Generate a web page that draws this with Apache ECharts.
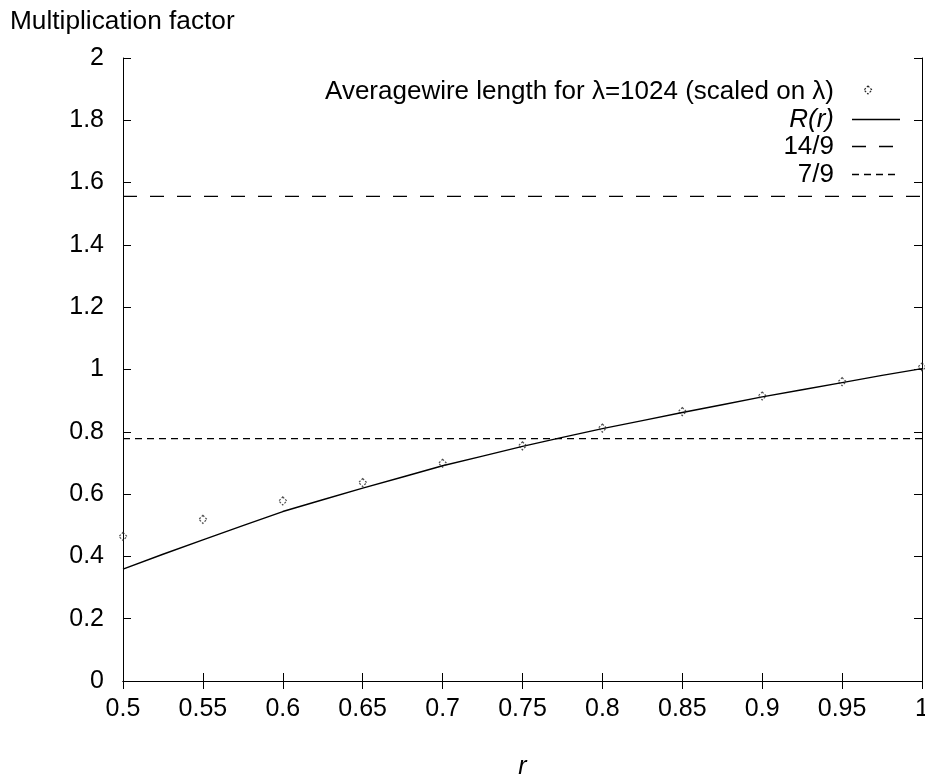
<!DOCTYPE html>
<html>
<head>
<meta charset="utf-8">
<script src="https://cdn.jsdelivr.net/npm/echarts@6/dist/echarts.min.js"></script>
<style>html,body{margin:0;padding:0;background:#fff}#c{width:925px;height:779px}</style>
</head>
<body>
<div id="c"></div>
<script>
// Data
var avgR = [0.5, 0.55, 0.6, 0.65, 0.7, 0.75, 0.8, 0.85, 0.9, 0.95, 1.0];
var avgVal = [0.464, 0.519, 0.578, 0.637, 0.699, 0.755, 0.812, 0.865, 0.915, 0.961, 1.008];
var curveR = [0.5, 0.525, 0.55, 0.575, 0.6, 0.625, 0.65, 0.675, 0.7, 0.725, 0.75, 0.775, 0.8, 0.825, 0.85, 0.875, 0.9, 0.925, 0.95, 0.975, 1.0];
var curveVal = [0.359, 0.407, 0.453, 0.499, 0.544, 0.582, 0.619, 0.655, 0.691, 0.722, 0.753, 0.782, 0.810, 0.836, 0.862, 0.887, 0.912, 0.935, 0.958, 0.981, 1.003];
var const14_9 = 14 / 9;
var const7_9 = 7 / 9;
var legendLabels = ['Averagewire length for \u03bb=1024 (scaled on \u03bb)', 'R(r)', '14/9', '7/9'];
var xTitle = 'r';
var yTitle = 'Multiplication factor';

var FONT = '"Liberation Sans", Arial, sans-serif';
var chart = echarts.init(document.getElementById('c'), null, {renderer: 'canvas'});

function zip(a, b) { return a.map(function (v, i) { return [v, b[i]]; }); }

var tickStyle = {show: true, inside: true, length: 8, lineStyle: {color: '#000', width: 1}};
var axisLineStyle = {show: true, lineStyle: {color: '#000', width: 1}};
var DASH_LONG = [14, 13];
var DASH_SHORT = [7, 5];

var option = {
  animation: false,
  backgroundColor: '#fff',
  textStyle: {fontFamily: FONT},
  grid: {left: 123, right: 3, top: 58, bottom: 98, containLabel: false, outerBoundsMode: 'none'},
  xAxis: [{
    type: 'value', min: 0.5, max: 1, interval: 0.05, position: 'bottom',
    axisLine: axisLineStyle, axisTick: tickStyle, splitLine: {show: false},
    axisLabel: {color: '#000', fontSize: 25, margin: 16, fontFamily: FONT},
    name: xTitle, nameLocation: 'middle', nameGap: 74,
    nameTextStyle: {color: '#000', fontSize: 25, fontStyle: 'italic', fontFamily: FONT}
  }, {
    type: 'value', min: 0.5, max: 1, interval: 0.05, position: 'top',
    axisLine: axisLineStyle, axisTick: tickStyle, splitLine: {show: false},
    axisLabel: {show: false}
  }],
  yAxis: [{
    type: 'value', min: 0, max: 2, interval: 0.2, position: 'left',
    axisLine: axisLineStyle, axisTick: tickStyle, splitLine: {show: false},
    axisLabel: {color: '#000', fontSize: 25, margin: 19, fontFamily: FONT}
  }, {
    type: 'value', min: 0, max: 2, interval: 0.2, position: 'right',
    axisLine: axisLineStyle, axisTick: tickStyle, splitLine: {show: false},
    axisLabel: {show: false}
  }],
  series: [{
    name: legendLabels[0], type: 'scatter', xAxisIndex: 0, yAxisIndex: 0,
    data: zip(avgR, avgVal), symbol: 'diamond', symbolSize: 8,
    itemStyle: {color: 'rgba(0,0,0,0)', borderColor: '#222', borderWidth: 1.2, borderType: [2, 1.5]},
    z: 5
  }, {
    name: legendLabels[1], type: 'line', xAxisIndex: 0, yAxisIndex: 0,
    data: zip(curveR, curveVal), showSymbol: false, symbol: 'none', smooth: false,
    lineStyle: {color: '#000', width: 1.4}
  }, {
    name: legendLabels[2], type: 'line', xAxisIndex: 0, yAxisIndex: 0,
    data: [[0.5, const14_9], [1, const14_9]], showSymbol: false, symbol: 'none',
    lineStyle: {color: '#000', width: 1.3, type: DASH_LONG}
  }, {
    name: legendLabels[3], type: 'line', xAxisIndex: 0, yAxisIndex: 0,
    data: [[0.5, const7_9], [1, const7_9]], showSymbol: false, symbol: 'none',
    lineStyle: {color: '#000', width: 1.3, type: DASH_SHORT}
  }],
  graphic: [
    {type: 'text', x: 10, y: 22, scaleX: 1.05, style: {text: yTitle, fill: '#000', font: '25px ' + FONT, textAlign: 'left', textVerticalAlign: 'middle'}},
    {type: 'text', x: 834, y: 92, scaleX: 1.04, style: {text: legendLabels[0], fill: '#000', font: '25px ' + FONT, textAlign: 'right', textVerticalAlign: 'middle'}},
    {type: 'text', x: 834, y: 120, scaleX: 1.04, style: {text: legendLabels[1], fill: '#000', font: 'italic 25px ' + FONT, textAlign: 'right', textVerticalAlign: 'middle'}},
    {type: 'text', x: 834, y: 147, scaleX: 1.04, style: {text: legendLabels[2], fill: '#000', font: '25px ' + FONT, textAlign: 'right', textVerticalAlign: 'middle'}},
    {type: 'text', x: 834, y: 175, scaleX: 1.04, style: {text: legendLabels[3], fill: '#000', font: '25px ' + FONT, textAlign: 'right', textVerticalAlign: 'middle'}},
    {type: 'polygon', shape: {points: [[868, 86], [872, 90], [868, 94], [864, 90]]}, style: {fill: 'none', stroke: '#222', lineWidth: 1.2, lineDash: [2, 1.5]}},
    {type: 'line', shape: {x1: 852, y1: 119.5, x2: 900, y2: 119.5}, style: {stroke: '#000', lineWidth: 1.4}},
    {type: 'line', shape: {x1: 852, y1: 146.5, x2: 900, y2: 146.5}, style: {stroke: '#000', lineWidth: 1.3, lineDash: DASH_LONG}},
    {type: 'line', shape: {x1: 852, y1: 174.5, x2: 900, y2: 174.5}, style: {stroke: '#000', lineWidth: 1.3, lineDash: DASH_SHORT}}
  ]
};
chart.setOption(option);
</script>
</body>
</html>
